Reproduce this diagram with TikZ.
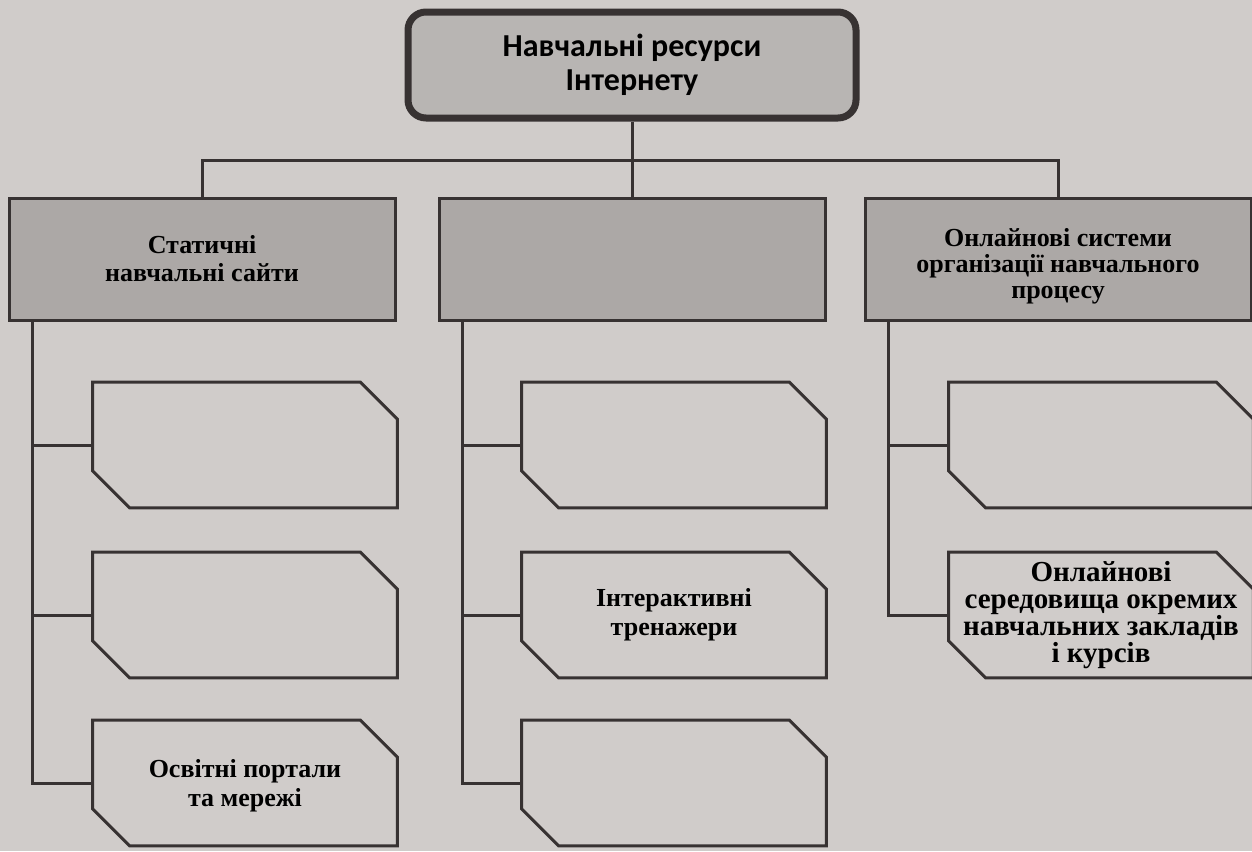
\documentclass[tikz,border=0pt]{standalone}
\usepackage{fontspec}
\setmainfont{Liberation Serif}
\newfontfamily\titlefont{Carlito}
\usetikzlibrary{positioning}

\definecolor{paper}{RGB}{208,204,202}
\definecolor{boxgray}{RGB}{172,168,166}
\definecolor{ink}{RGB}{55,50,50}

\tikzset{
  topbox/.style={draw=ink, line width=3.5pt, rounded corners=9pt, fill=boxgray!85!white,
    minimum width=224pt, minimum height=53pt, align=center,
    font=\titlefont\bfseries\fontsize{16}{17}\selectfont},
  groupbox/.style={draw=ink, line width=1.5pt, fill=boxgray, minimum width=193pt,
    minimum height=61pt, align=center, font=\bfseries\fontsize{13}{14}\selectfont},
  itembox/.style={minimum width=152pt, minimum height=62.5pt, inner sep=1pt,
    align=center, font=\bfseries\fontsize{13}{14.5}\selectfont},
  link/.style={draw=ink, line width=1.5pt}
}

\begin{document}
\begin{tikzpicture}[x=0.5pt, y=-0.5pt]
\fill[paper] (0,0) rectangle (1252,851);
\useasboundingbox (0,0) rectangle (1252,851);

% root
\node[topbox] (res) at (632,65) {Навчальні ресурси\\Інтернету};

% groups
\node[groupbox] (stat) at (202,259) {Статичні\\навчальні сайти};
\node[groupbox] (mid) at (632,259) {};
\node[groupbox, font=\bfseries\fontsize{13}{13}\selectfont] (onl) at (1058,259)
  {\rule{0pt}{16pt}Онлайнові системи\\організації навчального\\процесу};

% items
\node[itembox] (s1) at (245,445) {};
\node[itembox] (s2) at (245,615) {};
\node[itembox] (s3) at (245,783) {\rule{0pt}{12pt}Освітні портали\\та мережі};
\node[itembox] (m1) at (674,445) {};
\node[itembox] (m2) at (674,615) {Інтерактивні\\тренажери};
\node[itembox] (m3) at (674,783) {};
\node[itembox] (o1) at (1101,445) {};
\node[itembox, font=\bfseries\fontsize{14.5}{13.5}\selectfont] (o2) at (1101,615)
  {Онлайнові\\середовища окремих\\навчальних закладів\\і курсів};

% chamfered outlines
\foreach \n in {s1,s2,s3,m1,m2,m3,o1,o2}
  \draw[link] (\n.north west) -- ([xshift=-18.5pt]\n.north east)
    -- ([yshift=-18.5pt]\n.north east) -- (\n.south east)
    -- ([xshift=18.5pt]\n.south west) -- ([yshift=18.5pt]\n.south west) -- cycle;

% connectors
\coordinate (bus) at (632,160);
\draw[link] (res.south) -- (mid.north);
\draw[link] (stat.north) |- (bus) -| (onl.north);

\coordinate (t1) at ([xshift=12.5pt]stat.south west);
\coordinate (t2) at ([xshift=12.5pt]mid.south west);
\coordinate (t3) at ([xshift=12.5pt]onl.south west);
\draw[link] (t1) |- (s3.west);
\draw[link] (t1 |- s1.west) -- (s1.west);
\draw[link] (t1 |- s2.west) -- (s2.west);
\draw[link] (t2) |- (m3.west);
\draw[link] (t2 |- m1.west) -- (m1.west);
\draw[link] (t2 |- m2.west) -- (m2.west);
\draw[link] (t3) |- (o2.west);
\draw[link] (t3 |- o1.west) -- (o1.west);
\end{tikzpicture}
\end{document}
